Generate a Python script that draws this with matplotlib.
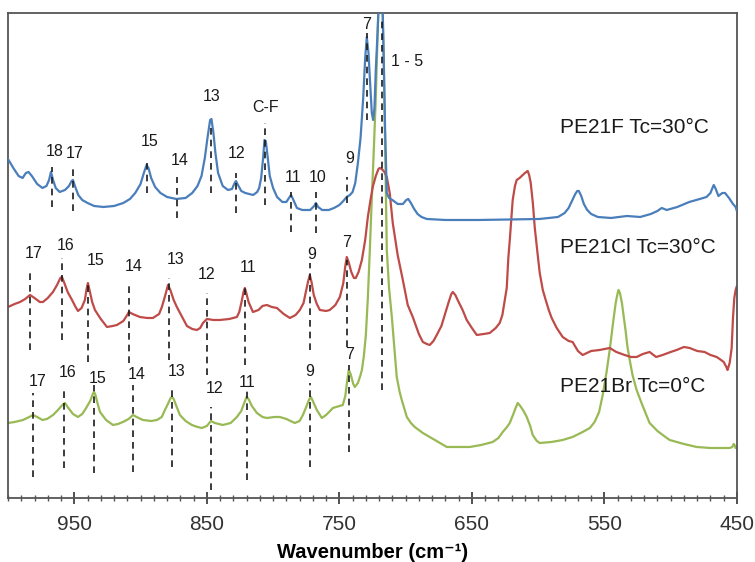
import matplotlib
matplotlib.use("Agg")
import matplotlib.pyplot as plt
from matplotlib.ticker import MultipleLocator

plt.rcParams['font.family'] = ['Liberation Sans', 'DejaVu Sans']

# ---- spectra (wavenumber cm-1, intensity a.u.) ----
f_wn = [1000, 996, 992, 989, 986.5, 984.5, 982, 978, 974, 971, 969, 967.6, 966, 964, 961,
        957, 954, 952, 951, 949.5, 947, 944, 940, 935, 928, 920, 913, 908, 904, 900,
        897.5, 895.5, 894, 892, 889, 885, 880, 873, 866, 861, 857, 854, 851.5, 849.5,
        847.5, 846.5, 845, 843.5, 841.5, 838, 834, 831, 829, 828, 826.5, 824, 821, 818,
        815, 812, 810.5, 809, 807.5, 806.5, 805.5, 804, 802.5, 800, 797, 793, 790,
        787.5, 786.5, 785, 782, 778, 772, 769, 767.7, 766, 763, 758, 754, 750, 747,
        744.5, 742, 740, 738, 736, 734, 732, 730.5, 729.3, 728, 727, 725.5, 724.5,
        723.5, 722.5, 721, 719.5, 718.5, 717.5, 716.5, 715.5, 714.2, 712.5, 710, 706,
        702, 699.5, 698, 696, 694, 691, 688, 684, 670, 645, 620, 599, 585, 580, 577,
        574.5, 572, 570.5, 569.3, 567.5, 565.5, 563, 560, 555, 545, 533, 523, 515, 510,
        506.8, 505, 503, 495, 486, 478, 473, 470, 468.5, 467.5, 466, 464, 463, 461, 459,
        456, 453, 451, 450.3]
f_int = [339, 330, 322, 320, 325, 326, 322, 314, 310, 312, 318, 326, 318, 310, 306,
         308, 312, 317, 318, 312, 303, 298, 295, 292, 291, 292, 295, 299, 305, 314,
         325, 333, 330, 320, 311, 305, 301, 299, 300, 305, 312, 322, 340, 360,
         378, 379, 365, 345, 325, 312, 308, 309, 315, 317, 313, 307, 305, 304,
         303, 306, 310, 320, 340, 358, 357, 340, 322, 310, 301, 296, 296,
         301, 303, 299, 290, 288, 288, 292, 295, 291, 288, 288, 290, 293, 297,
         301, 303, 306, 315, 335, 360, 400, 440, 461, 445, 420, 385, 378,
         390, 428, 470, 520, 540, 500, 440, 370, 305, 300, 298, 294,
         294, 298, 299, 295, 290, 284, 281, 279, 278, 278, 278.5, 279, 281, 285, 290,
         297, 304, 307, 307, 302, 294, 288, 284, 281, 280, 282, 281, 284, 287,
         290, 289, 288, 291, 296, 299, 301, 305, 310, 313, 309, 302, 303, 305, 305,
         300, 294, 291, 288]

cl_wn = [1000, 995, 990.9, 987, 983.4, 980, 976, 973.6, 970, 966.1, 963, 960.5, 959.3,
         957.5, 955, 951.7, 949, 947.2, 944.5, 942, 940.7, 939.7, 938.5, 936.5, 934.4,
         930, 925.3, 921, 917.8, 913, 910.5, 908.8, 906, 900.5, 895, 890.7, 886, 883.9,
         881.5, 879.3, 877.5, 875, 872.6, 869, 865, 861, 857.5, 855, 852.9, 849.9, 845,
         840.1, 833, 827.3, 825.5, 823.8, 822.3, 821.3, 820, 818.5, 815.2, 811, 808,
         804.7, 801, 797.1, 792, 787.3, 783, 779.8, 777, 775.3, 773.5, 772.3, 771,
         769.3, 767, 764.7, 760, 757.2, 753, 749.6, 747, 745.5, 744.4, 743, 741, 739,
         737.6, 735.5, 733, 730.5, 728.5, 726.5, 724.8, 722.5, 720.5, 719.5, 718, 716,
         714.2, 712, 709.7, 706, 702.1, 698.4, 694.6, 690, 687, 684, 681.8, 679, 676.5,
         673, 670.5, 667.5, 665.5, 664.4, 662.5, 660, 657, 653.9, 650, 646.3, 641,
         636.5, 632, 629, 627, 625.2, 623.7, 622.5, 621.4, 620.2, 619.2, 617.5, 616.2,
         614, 612.4, 610, 607.9, 606.8, 605.6, 604, 602.6, 600.5, 598.8, 596.5, 594.3,
         592, 589.8, 586, 581.5, 577, 574, 570, 566.4, 560, 553.6, 546, 541, 534.8,
         530, 525.7, 521, 515.9, 511, 506.1, 500, 495.5, 490, 485.7, 480, 474.4, 470,
         465.3, 462, 460, 458, 457.1, 455.5, 454, 453, 452, 451, 450.3]
cl_int = [191, 194, 196, 199, 203, 200, 196, 196, 200, 206, 213, 220, 221,
          215, 206, 198, 191, 187, 190, 198, 209, 215, 208, 196, 188,
          179, 171, 172, 173, 177, 182, 186, 184, 181, 180, 180, 184, 191,
          202, 213, 208, 198, 191, 182, 172, 169, 168, 170, 175, 179, 178,
          178, 179, 181, 186, 196, 206, 210, 204, 196, 186, 188, 192,
          193, 191, 190, 184, 180, 183, 188, 195, 206, 217, 223, 216,
          203, 194, 188, 187, 188, 193, 201, 215, 232, 241, 236, 226, 220,
          220, 226, 238, 258, 281, 298, 311, 322, 329, 330, 329, 326,
          321, 305, 275, 243, 218, 193, 181, 164, 156, 154, 153, 157, 163,
          172, 183, 196, 204, 206, 203, 196, 188, 178, 170, 163, 164,
          165, 170, 175, 183, 198, 210, 240, 258, 280, 298, 312, 318,
          320, 322, 325, 327, 323, 315, 295, 271, 245, 225, 208, 198,
          188, 180, 170, 161, 157, 156, 147, 143, 147, 148, 150, 146, 143,
          141, 141, 144, 146, 141, 143, 146, 148, 151, 150, 147, 146, 143,
          141, 138, 136, 131, 128, 135, 150, 180, 200, 208, 211]

br_wn = [1000, 995, 988.7, 984, 981.1, 978, 974, 970.6, 966, 962.3, 959, 957, 955, 951,
         947.2, 944, 941.5, 938, 936, 935.1, 934, 932.5, 930.6, 926, 920.8, 917, 913.3,
         909, 905.7, 903, 898.2, 892, 887.6, 884, 881.6, 879, 877.3, 876.3, 875, 873,
         870.3, 866, 861.3, 857, 853.7, 850, 846.9, 844, 837.9, 832, 827.3, 824, 821.5,
         820, 818.5, 816, 812.2, 808, 804.7, 799, 794.9, 790, 783.6, 780, 777.5, 775,
         773, 771.5, 770, 767, 763.2, 760, 757, 754.9, 750, 747.4, 745.5, 744, 742.9,
         741.5, 739.5, 738.3, 736, 734, 733, 731.5, 730, 728.5, 727, 725.5, 724, 722.5,
         721.7, 720.5, 719.5, 718, 716.5, 715.3, 714.2, 712.5, 710.4, 708.5, 706.7,
         704.5, 702.9, 699.1, 696, 693.1, 687, 678, 668.9, 660, 651.6, 643, 634.3, 630,
         626.7, 623.5, 621.4, 619, 617, 615.4, 613.5, 611, 608.6, 606, 604.1, 601,
         598.8, 590, 581.5, 574, 566.4, 561, 557.4, 554, 551.3, 548.5, 546, 543.5,
         541.5, 540, 539.3, 538.3, 536.8, 535.6, 534, 532.6, 530.5, 528.8, 525.7, 522,
         519, 515.9, 510, 505, 500.8, 490, 480.4, 470, 460, 455.5, 453.5, 452.5, 451.8,
         451, 450.3]
br_int = [75, 76, 78, 81, 83, 81, 78, 79, 83, 88, 93, 95, 91, 84,
          81, 84, 89, 97, 104, 106, 103, 95, 86, 78, 73, 74, 76,
          79, 83, 81, 78, 77, 78, 81, 88, 95, 100, 101, 99, 92,
          83, 77, 73, 71, 70, 72, 77, 75, 73, 75, 81, 87, 96,
          101, 99, 92, 85, 81, 80, 81, 81, 79, 75, 77, 83, 91,
          98, 101, 97, 88, 80, 83, 87, 90, 92, 93, 102, 118, 128,
          124, 114, 111, 115, 123, 128, 142, 163, 200, 248, 300, 348, 400,
          438, 490, 560, 520, 438, 340, 248, 210, 181, 150, 121,
          106, 98, 81, 75, 71, 65, 58, 51, 51, 51, 53, 56, 60,
          66, 71, 75, 83, 90, 95, 92, 87, 81, 72, 63, 57,
          55, 56, 58, 61, 66, 70, 76, 86, 103, 125, 148, 175,
          195, 205, 208, 205, 195, 183, 167, 151, 135, 123, 108, 95,
          85, 75, 67, 62, 58, 54, 51, 50, 50, 50, 51, 54, 53,
          50, 50]

# ---- band assignments: label, wavenumber, dashed span, label height ----
f_bands = ['18', '17', '15', '14', '13', '12', 'C-F', '11', '10', '9', '7', '1 - 5']
f_band_wn = [966.8, 951.0, 895.2, 872.6, 846.9, 828.1, 806.2, 786.6, 767.7, 744.4, 729.3, 718.0]
f_line_lo = [291, 287, 305, 280, 305, 285, 293, 266, 265, 295, 378, 108]
f_line_hi = [331, 329, 335, 321, 371, 325, 375, 306, 306, 321, 465, 478]
f_text_wn = [964.6, 949.5, 892.9, 870.3, 846.2, 827.3, 805.4, 785.1, 766.2, 742.1, 729.3, 699.1]
f_text_y = [346, 344, 356, 337, 401, 344, 390, 320, 320, 339, 473, 436]

cl_bands = ['17', '16', '15', '14', '13', '12', '11', '9', '7']
cl_band_wn = [983.4, 959.3, 939.7, 908.8, 878.6, 849.9, 821.3, 772.3, 744.4]
cl_line_lo = [148, 158, 136, 135, 138, 123, 133, 148, 151]
cl_line_hi = [228, 240, 216, 215, 220, 205, 213, 235, 238]
cl_text_wn = [980.4, 956.3, 933.6, 905.0, 873.3, 849.9, 819.0, 770.8, 744.4]
cl_text_y = [244, 252, 237, 231, 238, 223, 230, 243, 255]

br_bands = ['17', '16', '15', '14', '13', '12', '11', '9', '7']
br_band_wn = [981.1, 957.8, 935.1, 905.7, 876.3, 846.9, 819.8, 772.3, 742.9]
br_line_lo = [21, 30, 25, 26, 31, 8, 18, 31, 46]
br_line_hi = [105, 111, 113, 113, 108, 91, 108, 115, 133]
br_text_wn = [977.4, 954.8, 932.1, 902.7, 872.6, 843.9, 819.8, 772.3, 742.1]
br_text_y = [116, 125, 119, 123, 126, 109, 115, 126, 143]

names = ['PE21F Tc=30°C', 'PE21Cl Tc=30°C', 'PE21Br Tc=0°C']
name_y = [370, 250, 111]

# ---- figure ----
fig = plt.figure(figsize=(7.55, 5.62), dpi=100)
ax = fig.add_axes([0.0106, 0.1139, 0.9655, 0.863])

ax.plot(br_wn, br_int, color='#98b954', lw=1.6, zorder=2)
ax.plot(cl_wn, cl_int, color='#be4b48', lw=1.6, zorder=2)
ax.plot(f_wn, f_int, color='#4a7ebb', lw=1.6, zorder=3)

dash = (0, (4, 3))
for bands, bwn, lo, hi, twn, ty in [
        (f_bands, f_band_wn, f_line_lo, f_line_hi, f_text_wn, f_text_y),
        (cl_bands, cl_band_wn, cl_line_lo, cl_line_hi, cl_text_wn, cl_text_y),
        (br_bands, br_band_wn, br_line_lo, br_line_hi, br_text_wn, br_text_y)]:
    for lab, x, y0, y1, tx, tyy in zip(bands, bwn, lo, hi, twn, ty):
        ax.plot([x, x], [y0, y1], color='#1a1a1a', lw=1.2, linestyle=dash, zorder=4)
        ax.text(tx, tyy, lab, ha='center', va='center', fontsize=11.5,
                color='#1a1a1a', zorder=5)

for nm, y in zip(names, name_y):
    ax.text(583.7, y, nm, ha='left', va='center', fontsize=15, color='#1a1a1a')

ax.set_xlim(1000, 450)
ax.set_ylim(0, 485)
ax.set_yticks([])
ax.xaxis.set_minor_locator(MultipleLocator(10))
ax.set_xticks([950, 850, 750, 650, 550, 450])
ax.tick_params(axis='x', which='major', direction='inout', length=9, width=1.2,
               labelsize=15, pad=8, colors='#333333')
ax.tick_params(axis='x', which='minor', direction='inout', length=4, width=1.0,
               colors='#555555')
for side in ['left', 'right', 'top', 'bottom']:
    ax.spines[side].set_color('#555555')
    ax.spines[side].set_linewidth(1.3)

ax.set_xlabel('Wavenumber (cm⁻¹)', fontsize=14.5, fontweight='bold', labelpad=6)

fig.savefig('out.png', dpi=100)
